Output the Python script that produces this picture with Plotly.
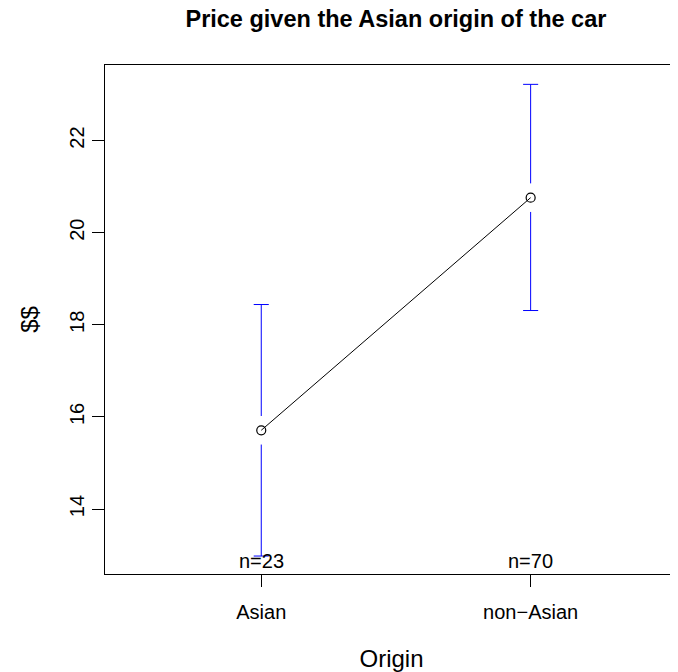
import plotly.graph_objects as go

# Data
categories = ["Asian", "non\u2212Asian"]
means = [15.71, 20.76]
ci_lower = [12.98, 18.31]
ci_upper = [18.44, 23.22]
counts = [23, 70]

xpos = [1, 2]
gap = 0.31      # gap between point and error bar (data units)
cap = 0.028     # half-width of caps

# Error bars (blue) with gap around the mean and caps
ex, ey = [], []
for x, m, lo, hi in zip(xpos, means, ci_lower, ci_upper):
    ex += [x, x, None, x, x, None, x - cap, x + cap, None, x - cap, x + cap, None]
    ey += [m + gap, hi, None, m - gap, lo, None, hi, hi, None, lo, lo, None]

fig = go.Figure()
fig.add_trace(go.Scatter(x=ex, y=ey, mode="lines",
                         line=dict(color="#0000FF", width=1),
                         hoverinfo="skip", showlegend=False))
fig.add_trace(go.Scatter(x=xpos, y=means, mode="lines+markers",
                         line=dict(color="black", width=1),
                         marker=dict(symbol="circle-open", size=9,
                                     color="black", line=dict(width=1.2)),
                         showlegend=False))

for x, n in zip(xpos, counts):
    fig.add_annotation(x=x, y=0, xref="x", yref="paper", text=f"n={n}",
                       showarrow=False, yanchor="bottom", xanchor="center",
                       font=dict(size=20, color="black"))

FONT = "Liberation Sans, Arial, Helvetica, sans-serif"
fig.update_layout(
    width=670, height=664,
    margin=dict(l=97, r=0, t=57, b=98),
    paper_bgcolor="white", plot_bgcolor="white",
    font=dict(family=FONT, size=20, color="black"),
    title=dict(text="<b>Price given the Asian origin of the car</b>",
               xref="container", x=0.579, xanchor="center",
               yref="container", y=0.984, yanchor="middle",
               font=dict(size=23.5, color="black")),
    xaxis=dict(range=[0.42, 2.547], tickvals=xpos, ticktext=categories,
               showgrid=False, zeroline=False, showline=True, mirror=True,
               linecolor="black", linewidth=1, ticks="outside", ticklen=12,
               tickcolor="black", tickwidth=1, ticklabelstandoff=8,
               title=dict(text="Origin", standoff=32)),
    yaxis=dict(range=[12.59, 23.64], tickvals=[14, 16, 18, 20, 22],
               showgrid=False, zeroline=False, showline=True, mirror=False,
               linecolor="black", linewidth=1, ticks="outside", ticklen=12,
               tickcolor="black", tickwidth=1, tickangle=-90,
               title=dict(text="$$", standoff=20)),
)

fig.write_html("out.html")
